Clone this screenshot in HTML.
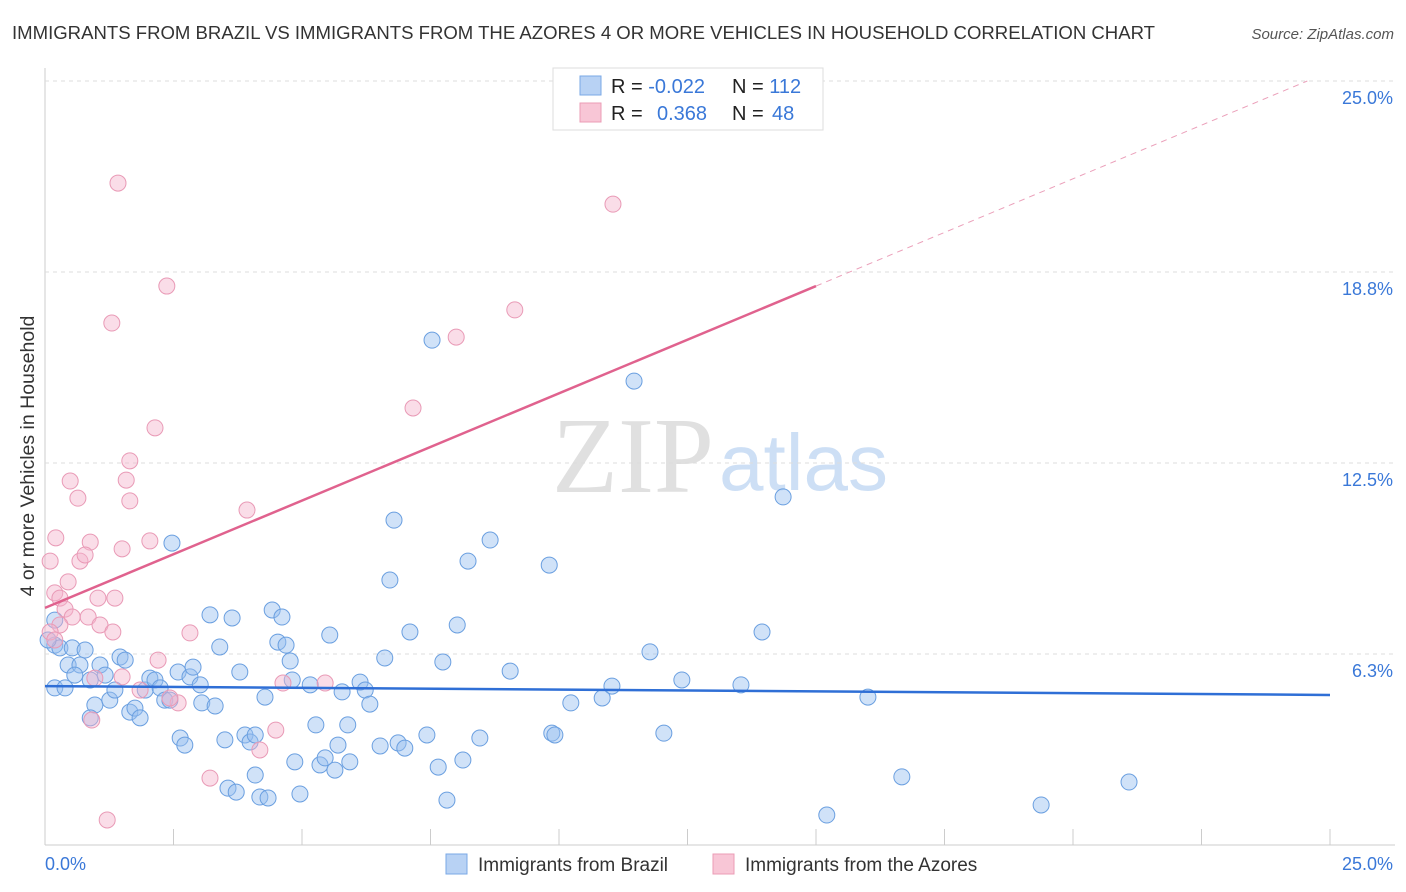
<!DOCTYPE html>
<html><head><meta charset="utf-8"><style>
body{margin:0;background:#fff;font-family:"Liberation Sans",sans-serif}
svg{display:block}
</style></head><body>
<svg id="chart" width="1406" height="892">
<text x="12" y="39" font-size="18" fill="#333" textLength="1143" lengthAdjust="spacingAndGlyphs">IMMIGRANTS FROM BRAZIL VS IMMIGRANTS FROM THE AZORES 4 OR MORE VEHICLES IN HOUSEHOLD CORRELATION CHART</text>
<text x="1394" y="39" font-size="15" fill="#555" text-anchor="end" font-style="italic">Source: ZipAtlas.com</text>
<text x="714" y="492" font-size="108" fill="#e0e0e0" text-anchor="end" font-family="Liberation Serif">ZIP</text>
<text x="719" y="490" font-size="80" fill="#cddff5">atlas</text>
<g id="grid"></g><g id="pts"></g><g id="lines"></g>
<text transform="translate(34,456) rotate(-90)" font-size="19.5" fill="#333" text-anchor="middle">4 or more Vehicles in Household</text>
<text x="45" y="870" font-size="18" fill="#3a78d8">0.0%</text>
<text x="1393" y="870" font-size="18" fill="#3a78d8" text-anchor="end">25.0%</text>
<g>
<rect x="553" y="68" width="270" height="62" fill="#fff" stroke="#ddd"/>
<rect x="580" y="76" width="21" height="19" fill="#b8d2f4" stroke="#7aa8e6"/>
<rect x="580" y="103" width="21" height="19" fill="#f8c6d6" stroke="#eb9cb6"/>
<text x="611" y="93" font-size="20" fill="#222">R = <tspan fill="#3a78d8">-0.022</tspan><tspan x="732">N = </tspan><tspan fill="#3a78d8">112</tspan></text>
<text x="611" y="120" font-size="20" fill="#222">R = <tspan x="657" fill="#3a78d8">0.368</tspan><tspan x="732">N = </tspan><tspan x="772" fill="#3a78d8">48</tspan></text>
</g>
<g><rect x="446" y="854" width="21" height="20" fill="#b8d2f4" stroke="#7aa8e6"/><text x="478" y="871" font-size="19" fill="#333">Immigrants from Brazil</text></g>
<g><rect x="713" y="854" width="21" height="20" fill="#f8c6d6" stroke="#eb9cb6"/><text x="745" y="871" font-size="19" fill="#333">Immigrants from the Azores</text></g>
</svg>
<script>
const yTicks=[6.25,12.5,18.75,25];
const yTickLabels=["6.3%","12.5%","18.8%","25.0%"];
const blueX=[0.19,0.39,0.19,0.29,0.53,0.78,0.45,0.68,0.58,1.07,1.17,0.88,0.97,1.26,1.36,1.46,1.56,0.88,1.65,1.75,1.85,1.95,2.04,2.14,2.24,2.33,2.43,2.47,2.59,2.63,2.72,2.82,2.88,3.02,3.05,3.21,3.31,3.40,3.50,3.56,3.64,3.72,3.79,3.89,3.99,4.09,4.09,4.18,4.28,4.34,4.42,4.53,4.61,4.69,4.77,4.81,4.86,4.96,5.16,5.27,5.35,5.45,5.54,5.64,5.70,5.78,5.89,5.93,6.13,6.23,6.32,6.52,6.61,6.71,6.79,6.87,7.00,7.10,7.43,7.53,7.65,7.74,7.82,8.02,8.13,8.23,8.46,8.66,9.05,9.81,9.86,9.92,10.23,10.84,11.03,11.46,11.77,12.04,12.39,13.54,13.95,14.36,15.21,16.01,16.67,19.38,21.09,0.19,0.06];
const blueY=[5.14,5.14,6.54,6.45,6.45,6.38,5.89,5.89,5.56,5.89,5.56,5.40,4.58,4.74,5.07,6.15,6.05,4.16,4.35,4.48,4.16,5.07,5.46,5.40,5.14,4.74,4.74,9.88,5.66,3.50,3.27,5.50,5.82,5.24,4.65,7.53,4.55,6.48,3.44,1.86,7.43,1.73,5.66,3.60,3.37,3.60,2.29,1.57,4.84,1.54,7.69,6.64,7.46,6.54,6.02,5.40,2.72,1.67,5.24,3.93,2.62,2.85,6.87,2.45,3.27,5.01,3.93,2.72,5.33,5.07,4.61,3.24,6.12,8.67,10.63,3.34,3.17,6.97,3.60,16.52,2.55,5.99,1.47,7.20,2.78,9.29,3.50,9.98,5.69,9.16,3.66,3.60,4.65,4.81,5.20,15.18,6.32,3.66,5.40,5.24,6.97,11.39,0.98,4.84,2.23,1.31,2.06,7.36,6.71];
const pinkX=[1.42,2.37,1.30,11.05,9.14,8.00,7.16,2.14,1.65,0.49,0.64,1.58,1.65,3.93,0.21,0.88,2.04,1.50,0.10,0.68,0.78,0.45,0.19,0.29,1.36,1.03,0.39,0.53,0.84,0.29,1.07,1.32,0.10,2.82,2.20,0.97,1.50,1.85,2.59,2.43,0.91,4.63,5.45,4.49,4.18,3.21,1.21,0.19];
const pinkY=[21.66,18.29,17.08,20.97,17.51,16.62,14.30,13.65,12.57,11.91,11.35,11.94,11.26,10.96,10.05,9.91,9.95,9.69,9.29,9.29,9.49,8.61,8.25,8.08,8.08,8.08,7.72,7.46,7.46,7.20,7.20,6.97,6.97,6.94,6.05,5.46,5.50,5.07,4.65,4.81,4.09,5.30,5.30,3.76,3.11,2.19,0.82,6.71];
const blueTrend=[5.20,4.91];
const pinkTrend=[7.76,0.702,15];
const NS="http://www.w3.org/2000/svg";
const sx=v=>45+v/25*1285, sy=v=>845-v*30.56;
function mk(t,a,p){const e=document.createElementNS(NS,t);for(const k in a)e.setAttribute(k,a[k]);p.appendChild(e);return e;}
const grid=document.getElementById('grid');
const ax=mk('line',{x1:45,y1:68,x2:45,y2:845,stroke:'#ccc'},grid);


const bx=mk('line',{x1:45,y1:845,x2:1395,y2:845,stroke:'#ccc'},grid);


for(let i=1;i<=10;i++){const t=mk('line',{x1:sx(i*2.5),y1:829,x2:sx(i*2.5),y2:845,stroke:'#ccc'},grid);

}
yTicks.forEach((v,i)=>{const g=mk('line',{x1:45,y1:sy(v),x2:1395,y2:sy(v),stroke:'#ddd','stroke-dasharray':'4,4'},grid);


const t=mk('text',{x:1393,y:sy(v)+23,'font-size':18,fill:'#3a78d8','text-anchor':'end'},grid);t.textContent=yTickLabels[i];

});
const pts=document.getElementById('pts');
blueX.forEach((x,i)=>{const c=mk('circle',{cx:sx(x),cy:sy(blueY[i]),r:8,fill:'rgba(150,190,240,0.45)',stroke:'#6a9fe0','stroke-width':1},pts);

});
pinkX.forEach((x,i)=>{const c=mk('circle',{cx:sx(x),cy:sy(pinkY[i]),r:8,fill:'rgba(245,180,205,0.45)',stroke:'#e99ab6','stroke-width':1},pts);

});
const L=document.getElementById('lines');
const bl=mk('line',{x1:sx(0),y1:sy(blueTrend[0]),x2:sx(25),y2:sy(blueTrend[1]),stroke:'#2f6fd6','stroke-width':2.5},L);


const pe=pinkTrend[2];
const pl=mk('line',{x1:sx(0),y1:sy(pinkTrend[0]),x2:sx(pe),y2:sy(pinkTrend[0]+pinkTrend[1]*pe),stroke:'#e0628e','stroke-width':2.5},L);


const xe=(25-pinkTrend[0])/pinkTrend[1];
const pd=mk('line',{x1:sx(pe),y1:sy(pinkTrend[0]+pinkTrend[1]*pe),x2:sx(xe),y2:sy(25),stroke:'#eba0ba','stroke-width':1,'stroke-dasharray':'6,5'},L);


</script>
</body></html>
